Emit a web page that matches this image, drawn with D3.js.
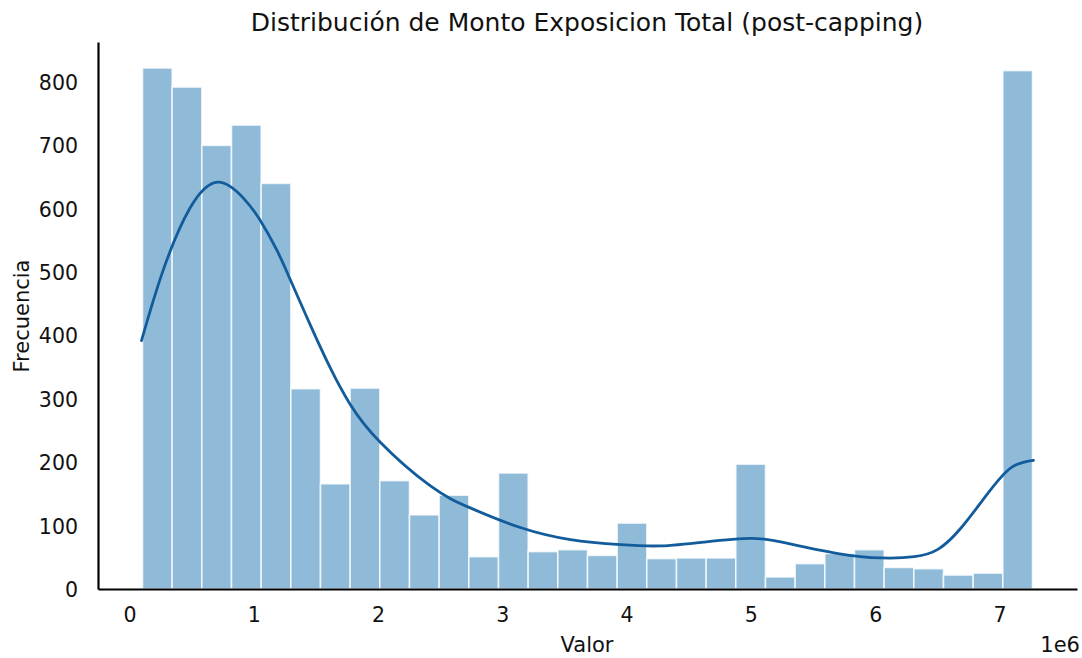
<!DOCTYPE html>
<html>
<head>
<meta charset="utf-8">
<script src="https://cdn.jsdelivr.net/npm/d3@7"></script>
<style>
  html, body { margin: 0; padding: 0; background: #fff; }
  svg { display: block; font-family: "DejaVu Sans", sans-serif; }
</style>
</head>
<body>
<svg id="chart" width="1082" height="658"></svg>
<script>
// Histogram of capped exposure amounts (30 equal-width bins) with a KDE overlay.
const dataMin = 105000;
const dataMax = 7266000;
const binCounts = [822, 792, 700, 732, 640, 316, 166, 317, 171, 117,
                   148, 51, 183, 59, 62, 53, 104, 48, 49, 49,
                   197, 19, 40, 56, 62, 34, 32, 22, 25, 818];

// Density curve, scaled to counts (x in millions)
const kdeX = [0.097, 0.266, 0.484, 0.710, 0.911, 1.048, 1.185, 1.290, 1.452, 1.613,
              1.774, 2.016, 2.419, 2.742, 3.145, 3.548, 3.952, 4.274, 4.621,
              5.000, 5.298, 5.702, 6.048, 6.315, 6.508, 6.694, 6.911, 7.097, 7.274];
const kdeY = [392, 500, 600, 642, 618, 583, 535, 490, 418, 350,
              292, 232, 163, 128, 97, 78, 70, 68, 74,
              80, 72, 56, 49, 51, 63, 97, 152, 192, 203];

const xTicks = [0, 1, 2, 3, 4, 5, 6, 7];
const yTicks = [0, 100, 200, 300, 400, 500, 600, 700, 800];

const nBins = binCounts.length;
const binW = (dataMax - dataMin) / nBins;
const bins = binCounts.map((c, i) => ({ x0: dataMin + i * binW, x1: dataMin + (i + 1) * binW, count: c }));

const span = dataMax - dataMin;
const x = d3.scaleLinear().domain([dataMin - 0.05 * span, dataMax + 0.05 * span]).range([98, 1077]);
const y = d3.scaleLinear().domain([0, d3.max(binCounts) * 1.05]).range([589, 42]);

const svg = d3.select("#chart");

// bars
svg.append("g").selectAll("rect").data(bins).join("rect")
  .attr("x", d => x(d.x0))
  .attr("y", d => y(d.count))
  .attr("width", d => x(d.x1) - x(d.x0))
  .attr("height", d => y(0) - y(d.count))
  .attr("fill", "#8fbbd9")
  .attr("stroke", "#ffffff")
  .attr("stroke-opacity", 0.75)
  .attr("stroke-width", 1.6);

// kde line
const line = d3.line().x((d, i) => x(kdeX[i] * 1e6)).y(d => y(d)).curve(d3.curveNatural);
svg.append("path").datum(kdeY)
  .attr("d", line)
  .attr("fill", "none")
  .attr("stroke", "#135c9b")
  .attr("stroke-width", 2.8)
  .attr("stroke-linecap", "round");

// axes
const xAxis = d3.axisBottom(x).tickValues(xTicks.map(v => v * 1e6)).tickFormat(v => String(v / 1e6)).tickSize(0).tickPadding(18);
const yAxis = d3.axisLeft(y).tickValues(yTicks).tickFormat(d3.format("d")).tickSize(0).tickPadding(20);

const gx = svg.append("g").attr("transform", "translate(0,589)").call(xAxis);
const gy = svg.append("g").attr("transform", "translate(98,0)").call(yAxis);
[gx, gy].forEach(g => {
  g.select(".domain").attr("stroke", "#000").attr("stroke-width", 2.2);
  g.selectAll("text").attr("fill", "#111").attr("font-size", 20.5).attr("font-family", "DejaVu Sans");
});
gy.selectAll("text").attr("dy", "0.36em");

// labels
svg.append("text").attr("x", 587).attr("y", 31).attr("text-anchor", "middle")
  .attr("font-size", 25).attr("fill", "#111").text("Distribución de Monto Exposicion Total (post-capping)");
svg.append("text").attr("x", 587).attr("y", 652).attr("text-anchor", "middle")
  .attr("font-size", 21).attr("fill", "#111").text("Valor");
svg.append("text").attr("transform", "translate(29,316) rotate(-90)").attr("text-anchor", "middle")
  .attr("font-size", 21).attr("fill", "#111").text("Frecuencia");
svg.append("text").attr("x", 1080).attr("y", 652).attr("text-anchor", "end")
  .attr("font-size", 21).attr("fill", "#111").text("1e6");
</script>
</body>
</html>
